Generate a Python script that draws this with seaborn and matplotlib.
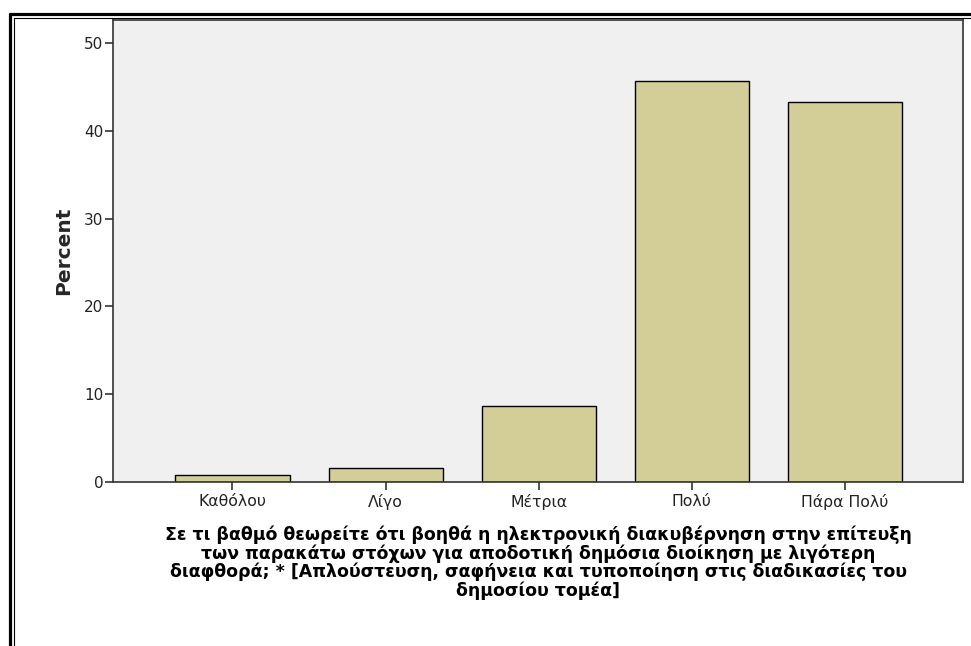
import numpy as np
import pandas as pd
import matplotlib
matplotlib.use('Agg')
import matplotlib.pyplot as plt
import seaborn as sns
from matplotlib.lines import Line2D

# data
categories = ['Καθόλου', 'Λίγο', 'Μέτρια', 'Πολύ', 'Πάρα Πολύ']
percents = [0.8, 1.6, 8.7, 45.7, 43.3]
y_ticks = [0, 10, 20, 30, 40, 50]

x_title = ('Σε τι βαθμό θεωρείτε ότι βοηθά η ηλεκτρονική διακυβέρνηση στην επίτευξη\n'
           'των παρακάτω στόχων για αποδοτική δημόσια διοίκηση με λιγότερη\n'
           'διαφθορά; * [Απλούστευση, σαφήνεια και τυποποίηση στις διαδικασίες του\n'
           'δημοσίου τομέα]')

df = pd.DataFrame({'category': categories, 'percent': percents})

sns.set_style('white')
plt.rcParams['font.family'] = ['DejaVu Sans']

W, H = 971, 646
fig = plt.figure(figsize=(W / 100, H / 100), dpi=100)
ax = fig.add_axes([113 / W, 1 - 482 / H, (963 - 113) / W, (482 - 20) / H])
ax.set_facecolor('#f0f0f0')

sns.barplot(data=df, x='category', y='percent', color='#d3ce97',
            saturation=1, edgecolor='black', linewidth=1, width=0.745, ax=ax)

ax.set_xlim(-0.78, 4.77)
ax.set_ylim(0, 52.6)
ax.set_yticks(y_ticks)
ax.tick_params(axis='both', direction='out', length=6, width=1.2, color='#333333',
               labelsize=11, labelcolor='#222222', pad=1, left=True, bottom=True)
ax.tick_params(axis='x', pad=3, labelsize=11.3)

for s in ax.spines.values():
    s.set_color('#333333')
    s.set_linewidth(1.2)

ax.set_ylabel('Percent', fontsize=14.5, fontweight='bold', labelpad=8)
ax.set_xlabel(x_title, fontsize=12.5, fontweight='bold', labelpad=11,
              linespacing=1.0, color='black')

# SPSS output frame (double line, top and left visible)
fig.add_artist(Line2D([10 / W, 1.0], [1 - 14.2 / H, 1 - 14.2 / H], color='black', lw=2.3))
fig.add_artist(Line2D([10 / W, 10 / W], [0.0, 1 - 14.2 / H], color='black', lw=2.3))
fig.add_artist(Line2D([13.5 / W, 1.0], [1 - 17.8 / H, 1 - 17.8 / H], color='black', lw=0.8))
fig.add_artist(Line2D([13.5 / W, 13.5 / W], [0.0, 1 - 17.8 / H], color='black', lw=0.8))

fig.savefig('out.png', dpi=100)
